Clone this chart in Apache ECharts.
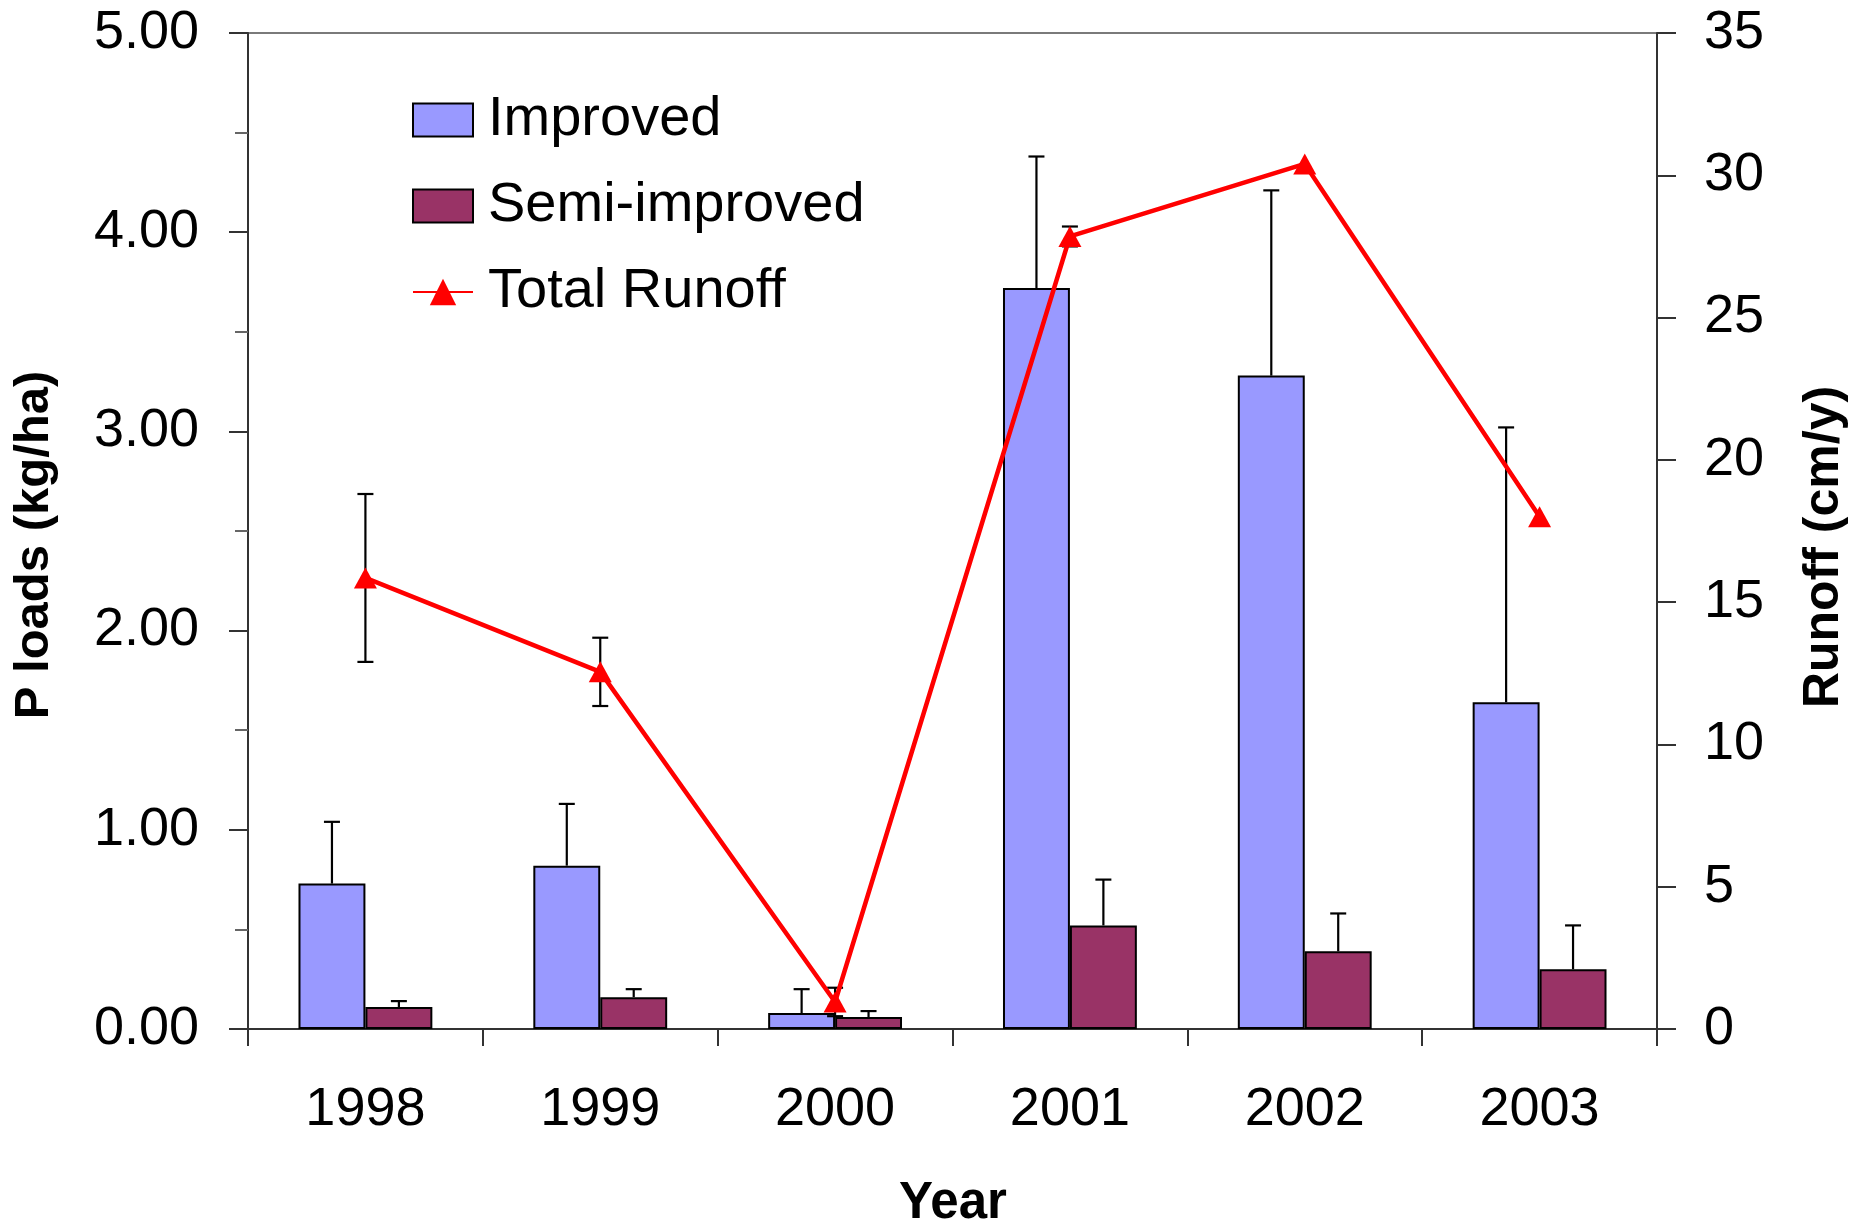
<!DOCTYPE html>
<html>
<head>
<meta charset="utf-8">
<script src="https://cdn.jsdelivr.net/npm/echarts@6/dist/echarts.min.js"></script>
<style>
html,body{margin:0;padding:0;background:#fff;}
#chart{width:1868px;height:1225px;}
</style>
</head>
<body>
<div id="chart"></div>
<script>
// ---- data ----
const categories = ['1998', '1999', '2000', '2001', '2002', '2003'];
const improved = [0.73, 0.82, 0.08, 3.72, 3.28, 1.64];
const improvedErr = [0.31, 0.31, 0.12, 0.66, 0.93, 1.38];
const semiImproved = [0.11, 0.16, 0.06, 0.52, 0.39, 0.30];
const semiImprovedErr = [0.03, 0.04, 0.03, 0.23, 0.19, 0.22];
const totalRunoff = [15.85, 12.55, 0.95, 27.85, 30.4, 18.0];
const totalRunoffErr = [2.95, 1.2, 0.5, 0.35, 0, 0];
const leftTicks = { min: 0, max: 5, interval: 1 };
const rightTicks = { min: 0, max: 35, interval: 5 };

const FONT = "'Liberation Sans', Arial, sans-serif";
const BAR_W = 0.285;

function errItem(sign, bothEnds) {
  return function (params, api) {
    const i = api.value(0);
    const lo = api.value(1);
    const hi = api.value(2);
    const band = api.size([1, 0])[0];
    const off = sign * band * BAR_W / 2;
    const pLo = api.coord([i, lo]);
    const pHi = api.coord([i, hi]);
    const x = pLo[0] + off;
    const cap = 8;
    const st = { stroke: '#000', lineWidth: 2.2 };
    const children = [
      { type: 'line', shape: { x1: x, y1: pLo[1], x2: x, y2: pHi[1] }, style: st },
      { type: 'line', shape: { x1: x - cap, y1: pHi[1], x2: x + cap, y2: pHi[1] }, style: st }
    ];
    if (bothEnds) {
      children.push({ type: 'line', shape: { x1: x - cap, y1: pLo[1], x2: x + cap, y2: pLo[1] }, style: st });
    }
    return { type: 'group', children: children };
  };
}

const improvedErrData = improved.map((v, i) => [i, v, v + improvedErr[i]]);
const semiErrData = semiImproved.map((v, i) => [i, v, v + semiImprovedErr[i]]);
const runoffErrData = totalRunoff.map((v, i) => [i, v - totalRunoffErr[i], v + totalRunoffErr[i]]).filter((d, i) => totalRunoffErr[i] > 0);

const chart = echarts.init(document.getElementById('chart'), null, { renderer: 'canvas' });

const option = {
  animation: false,
  backgroundColor: '#fff',
  textStyle: { fontFamily: FONT },
  grid: {
    left: 248, right: 211, top: 33, bottom: 196,
    show: true, borderColor: '#7a7a7a', borderWidth: 2, backgroundColor: 'transparent'
  },
  legend: {
    orient: 'vertical',
    left: 407,
    top: 87,
    itemWidth: 60,
    itemHeight: 33,
    itemGap: 30,
    data: [
      { name: 'Improved', icon: 'rect' },
      { name: 'Semi-improved', icon: 'rect' },
      { name: 'Total Runoff' }
    ],
    textStyle: { fontSize: 56, lineHeight: 54, color: '#000', fontFamily: FONT, padding: [0, 0, 0, 10] }
  },
  xAxis: {
    type: 'category',
    data: categories,
    boundaryGap: true,
    axisLine: { lineStyle: { color: '#333', width: 2 } },
    axisTick: { show: true, length: 17, interval: 0, alignWithLabel: false, lineStyle: { color: '#333', width: 2 } },
    axisLabel: { fontSize: 54, color: '#000', margin: 54, fontFamily: FONT, interval: 0 },
    splitLine: { show: false }
  },
  yAxis: [
    {
      type: 'value',
      min: leftTicks.min, max: leftTicks.max, interval: leftTicks.interval,
      axisLine: { show: true, lineStyle: { color: '#333', width: 2 } },
      axisTick: { show: true, length: 19, lineStyle: { color: '#333', width: 2 } },
      minorTick: { show: true, splitNumber: 2, length: 13, lineStyle: { color: '#666', width: 2 } },
      axisLabel: { fontSize: 54, color: '#000', margin: 49, fontFamily: FONT, formatter: v => v.toFixed(2) },
      splitLine: { show: false }
    },
    {
      type: 'value',
      position: 'right',
      min: rightTicks.min, max: rightTicks.max, interval: rightTicks.interval,
      axisLine: { show: true, lineStyle: { color: '#333', width: 2 } },
      axisTick: { show: true, length: 19, lineStyle: { color: '#333', width: 2 } },
      axisLabel: { fontSize: 54, color: '#000', margin: 47, fontFamily: FONT },
      splitLine: { show: false }
    }
  ],
  graphic: [
    { type: 'text', x: 34, y: 545, rotation: Math.PI / 2,
      style: { text: 'P loads (kg/ha)', font: "bold 49px 'Liberation Sans', Arial, sans-serif", fill: '#000', align: 'center', verticalAlign: 'middle' } },
    { type: 'text', x: 1824, y: 547, rotation: Math.PI / 2,
      style: { text: 'Runoff (cm/y)', font: "bold 50px 'Liberation Sans', Arial, sans-serif", fill: '#000', align: 'center', verticalAlign: 'middle' } },
    { type: 'text', x: 953, y: 1204,
      style: { text: 'Year', font: "bold 51px 'Liberation Sans', Arial, sans-serif", fill: '#000', align: 'center', verticalAlign: 'middle' } }
  ],
  series: [
    {
      name: 'Improved', type: 'bar', yAxisIndex: 0, data: improved,
      barWidth: (BAR_W * 100) + '%', barGap: '0%', z: 2,
      itemStyle: { color: '#9999FF', borderColor: '#000', borderWidth: 2 }
    },
    {
      name: 'Semi-improved', type: 'bar', yAxisIndex: 0, data: semiImproved,
      barWidth: (BAR_W * 100) + '%', barGap: '0%', z: 2,
      itemStyle: { color: '#993366', borderColor: '#000', borderWidth: 2 }
    },
    {
      name: 'improvedErr', type: 'custom', yAxisIndex: 0, z: 3,
      renderItem: errItem(-1, false), data: improvedErrData, silent: true
    },
    {
      name: 'semiErr', type: 'custom', yAxisIndex: 0, z: 3,
      renderItem: errItem(1, false), data: semiErrData, silent: true
    },
    {
      name: 'runoffErr', type: 'custom', yAxisIndex: 1, z: 3,
      renderItem: errItem(0, true), data: runoffErrData, silent: true
    },
    {
      name: 'Total Runoff', type: 'line', yAxisIndex: 1, data: totalRunoff, z: 4,
      symbol: 'triangle', symbolSize: [23, 21], showAllSymbol: true,
      lineStyle: { color: '#FF0000', width: 4.5 },
      itemStyle: { color: '#FF0000' }
    }
  ]
};
chart.setOption(option);
</script>
</body>
</html>
